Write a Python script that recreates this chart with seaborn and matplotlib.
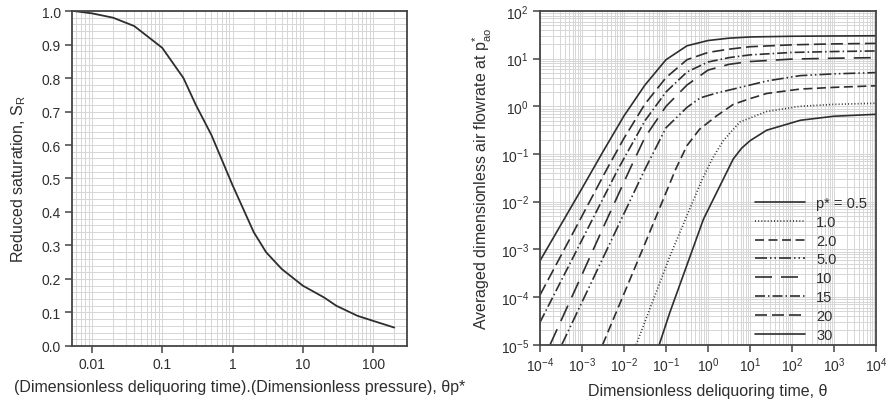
import numpy as np
import pandas as pd
import matplotlib
matplotlib.use("Agg")
import matplotlib.pyplot as plt
import seaborn as sns
from matplotlib.ticker import LogLocator, FixedLocator, MultipleLocator, NullFormatter, FuncFormatter

# ---------------- data ----------------
# Left panel: reduced saturation vs theta*p*
sat_x = [0.0055, 0.01, 0.02, 0.04, 0.1, 0.2, 0.3, 0.5, 1, 2, 3, 5, 10, 20, 30, 60, 100, 200]
sat_y = [1.0, 0.993, 0.98, 0.955, 0.89, 0.80, 0.72, 0.63, 0.48, 0.34, 0.28, 0.23, 0.18, 0.145, 0.12, 0.09, 0.075, 0.055]

# Right panel: averaged dimensionless air flowrate vs theta, one curve per p*
p_labels = ["0.5", "1.0", "2.0", "5.0", "10", "15", "20", "30"]

theta_p05 = [0.069, 0.124, 0.31, 0.78, 2.3, 4.0, 6.3, 10, 25, 158, 1000, 1e4]
flow_p05 = [1e-5, 4.8e-5, 4.5e-4, 4.3e-3, 0.0295, 0.079, 0.132, 0.19, 0.316, 0.51, 0.62, 0.68]

theta_p1 = [0.0195, 0.124, 0.71, 1.26, 2.3, 5.75, 25, 155, 1000, 1e4]
flow_p1 = [1e-5, 7.2e-4, 0.028, 0.079, 0.19, 0.47, 0.78, 1.0, 1.1, 1.16]

theta_p2 = [3.1e-3, 0.0316, 0.17, 0.316, 0.63, 1.6, 4.0, 10, 25, 155, 1000, 1e4]
flow_p2 = [1e-5, 1.32e-3, 0.048, 0.15, 0.33, 0.63, 1.1, 1.45, 1.86, 2.3, 2.5, 2.7]

theta_p5 = [3.3e-4, 3.16e-3, 0.0316, 0.1, 0.316, 0.65, 1.6, 4.0, 25, 155, 1000, 1e4]
flow_p5 = [1e-5, 6.6e-4, 0.048, 0.355, 0.95, 1.5, 1.9, 2.3, 3.4, 4.4, 4.8, 5.1]

theta_p10 = [1.74e-4, 1e-3, 3.16e-3, 0.0138, 0.0316, 0.1, 0.316, 1, 3.16, 10, 100, 1000, 1e4]
flow_p10 = [1e-5, 2.95e-4, 2.8e-3, 0.048, 0.224, 1.0, 2.8, 5.75, 7.6, 8.7, 9.8, 10.2, 10.5]

theta_p15 = [1e-4, 1e-3, 7.2e-3, 0.0316, 0.1, 0.316, 1, 3.16, 10, 100, 1000, 1e4]
flow_p15 = [2.95e-5, 1.58e-3, 0.048, 0.5, 2.0, 5.25, 8.5, 10.5, 12.0, 13.5, 14.1, 14.5]

theta_p20 = [1e-4, 1e-3, 3.9e-3, 0.01, 0.0316, 0.1, 0.316, 1, 3.16, 10, 100, 1000, 1e4]
flow_p20 = [1.1e-4, 5.0e-3, 0.048, 0.214, 1.12, 4.0, 9.5, 13.5, 15.8, 17.8, 19.5, 20.4, 20.9]

theta_p30 = [1e-4, 1e-3, 3.16e-3, 0.01, 0.0316, 0.1, 0.316, 1, 3.16, 10, 100, 1000, 1e4]
flow_p30 = [5.75e-4, 0.019, 0.112, 0.63, 2.8, 9.5, 18.6, 24, 26.9, 28.5, 29.5, 29.9, 30.2]

left_xticks = [0.01, 0.1, 1, 10, 100]
left_xticklabels = ["0.01", "0.1", "1", "10", "100"]
left_yticks = [0.0, 0.1, 0.2, 0.3, 0.4, 0.5, 0.6, 0.7, 0.8, 0.9, 1.0]

# ---------------- styling ----------------
sns.set_theme(style="white")
plt.rcParams["font.family"] = ["Liberation Sans", "DejaVu Sans"]
plt.rcParams["mathtext.fontset"] = "custom"
plt.rcParams["mathtext.rm"] = "Liberation Sans"
plt.rcParams["mathtext.it"] = "Liberation Sans:italic"
plt.rcParams["mathtext.default"] = "regular"

INK = "#2e2e2e"
GRID = "#d6d6d6"

fig = plt.figure(figsize=(8.89, 4.10), dpi=100)
axL = fig.add_axes([0.081, 0.1537, 0.377, 0.817])
axR = fig.add_axes([0.6074, 0.1568, 0.378, 0.814])

# ---------------- left panel ----------------
dfL = pd.DataFrame({"x": sat_x, "y": sat_y})
axL.set_xscale("log")
sns.lineplot(data=dfL, x="x", y="y", ax=axL, color=INK, lw=1.3, sort=False, estimator=None)
axL.set_xlim(0.0052, 305)
axL.set_ylim(0, 1.0)
axL.xaxis.set_major_locator(FixedLocator(left_xticks))
axL.xaxis.set_major_formatter(FuncFormatter(lambda v, p: dict(zip(left_xticks, left_xticklabels)).get(v, "")))
axL.xaxis.set_minor_locator(LogLocator(base=10, subs=np.arange(2, 10), numticks=50))
axL.xaxis.set_minor_formatter(NullFormatter())
axL.set_yticks(left_yticks)
axL.set_yticklabels([f"{v:.1f}" for v in left_yticks])
axL.yaxis.set_minor_locator(MultipleLocator(0.02))
axL.set_xlabel("(Dimensionless deliquoring time).(Dimensionless pressure), θp*", fontsize=11.5, color=INK, labelpad=6)
axL.set_ylabel("Reduced saturation, S$_R$", fontsize=11.5, color=INK, labelpad=10)

# ---------------- right panel ----------------
curves = [(theta_p05, flow_p05), (theta_p1, flow_p1), (theta_p2, flow_p2), (theta_p5, flow_p5),
          (theta_p10, flow_p10), (theta_p15, flow_p15), (theta_p20, flow_p20), (theta_p30, flow_p30)]
rows = []
for lab, (tx, fy) in zip(p_labels, curves):
    for a, b in zip(tx, fy):
        rows.append({"theta": a, "flow": b, "p": lab})
dfR = pd.DataFrame(rows)

dash_map = {
    "0.5": "",
    "1.0": (0.6, 1.3),
    "2.0": (5.4, 2.7),
    "5.0": (7.2, 1.8, 0.9, 1.8, 0.9, 1.8),
    "10": (10.2, 5.4),
    "15": (6.0, 1.8, 0.9, 1.8),
    "20": (7.2, 3.0),
    "30": "",
}
axR.set_xscale("log")
axR.set_yscale("log")
sns.lineplot(data=dfR, x="theta", y="flow", style="p", style_order=p_labels, dashes=dash_map,
             ax=axR, color=INK, lw=1.2, sort=False, estimator=None, legend=False)
axR.set_xlim(1e-4, 1e4)
axR.set_ylim(1e-5, 1e2)
axR.xaxis.set_major_locator(LogLocator(base=10, numticks=20))
axR.yaxis.set_major_locator(LogLocator(base=10, numticks=20))
for axis in (axR.xaxis, axR.yaxis):
    axis.set_minor_locator(LogLocator(base=10, subs=np.arange(2, 10), numticks=100))
    axis.set_minor_formatter(NullFormatter())
axR.xaxis.set_major_formatter(FuncFormatter(lambda v, p: f"$10^{{{int(round(np.log10(v)))}}}$"))
axR.yaxis.set_major_formatter(FuncFormatter(lambda v, p: f"$10^{{{int(round(np.log10(v)))}}}$"))
axR.set_xlabel("Dimensionless deliquoring time, θ", fontsize=11.5, color=INK, labelpad=6)
axR.set_ylabel("Averaged dimensionless air flowrate at p$^{*}_{ao}$", fontsize=11.5, color=INK, labelpad=5)

handles = axR.get_lines()[:len(p_labels)]
leg_labels = ["p* = 0.5"] + p_labels[1:]
axR.legend(handles, leg_labels, loc="upper left", bbox_to_anchor=(755 / 889, 1 - 197 / 410),
           bbox_transform=fig.transFigure, frameon=False, fontsize=10.5, handlelength=3.4,
           handletextpad=0.8, labelspacing=0.33, borderpad=0, borderaxespad=0)
for t in axR.get_legend().get_texts():
    t.set_color(INK)

# common axis styling
for ax in (axL, axR):
    ax.grid(True, which="both", color=GRID, lw=0.7)
    ax.set_axisbelow(True)
    for s in ax.spines.values():
        s.set_color("#444444")
        s.set_linewidth(1.3)
    ax.tick_params(which="major", direction="out", length=5, width=1.1, color="#444444",
                   labelsize=10, labelcolor=INK, left=True, bottom=True, pad=3)
    ax.tick_params(which="minor", length=0)

fig.savefig("out.png", dpi=100)
